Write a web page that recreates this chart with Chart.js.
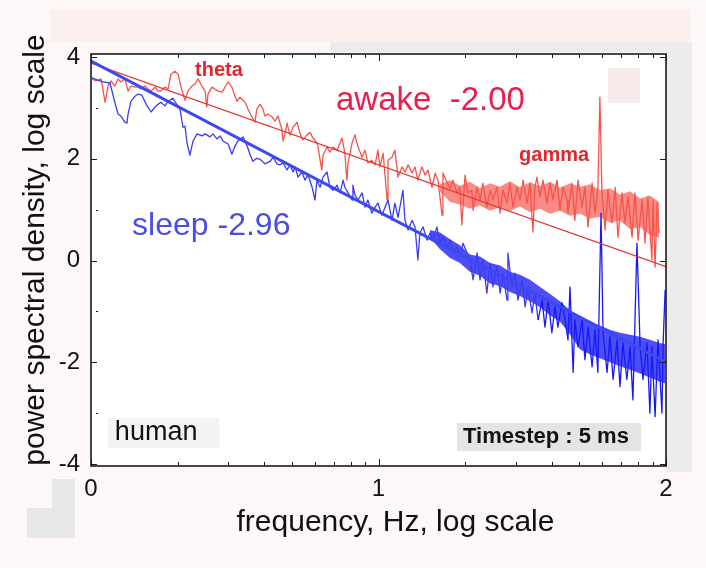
<!DOCTYPE html>
<html lang="en">
<head>
<meta charset="UTF-8">
<title>Power spectral density, awake vs sleep</title>
<script src="https://cdn.jsdelivr.net/npm/chart.js"></script>
<style>
  html, body { margin: 0; padding: 0; background: #fff; }
</style>
</head>
<body>
<canvas id="psd" width="706" height="568"></canvas>
<script>
// log10 frequency (Hz) and log10 power
const awakeLogF = [
  0.003,0.017,0.035,0.049,0.059,0.070,0.083,0.094,0.104,0.118,
  0.129,0.139,0.153,0.163,0.174,0.188,0.198,0.209,0.223,0.233,
  0.243,0.257,0.268,0.278,0.292,0.303,0.313,0.327,0.337,0.351,
  0.362,0.372,0.386,0.397,0.403,0.407,0.421,0.431,0.442,0.456,
  0.466,0.477,0.490,0.501,0.508,0.518,0.536,0.546,0.560,0.570,
  0.577,0.588,0.598,0.605,0.616,0.630,0.640,0.650,0.664,0.668,
  0.675,0.682,0.692,0.703,0.717,0.727,0.737,0.751,0.762,0.772,
  0.786,0.790,0.797,0.803,0.807,0.821,0.831,0.842,0.856,0.866,
  0.873,0.883,0.890,0.894,0.908,0.918,0.929,0.943,0.953,0.963,
  0.977,0.988,0.998,1.005,1.016,1.030,1.033,1.047,1.057,1.068,
  1.082,1.092,1.103,1.117,1.127,1.137,1.151,1.162,1.172,1.186,
  1.197,1.207,1.221,1.224,1.238,1.249,1.259,1.273,1.283,1.290,
  1.301,1.311,1.325,1.329,1.343,1.353,1.363,1.377,1.388,1.398,
  1.412,1.423,1.433,1.447,1.457,1.468,1.482,1.492,1.503,1.517,
  1.527,1.537,1.544,1.551,1.562,1.572,1.586,1.597,1.607,1.621,
  1.631,1.642,1.656,1.659,1.673,1.683,1.694,1.708,1.718,1.729,
  1.743,1.753,1.763,1.770,1.777,1.788,1.798,1.812,1.823,1.833,
  1.847,1.857,1.868,1.882,1.892,1.903,1.917,1.927,1.937,1.951,
  1.955,1.962,1.969,1.976
];
const awakePower = [
  3.57,3.53,3.57,3.11,3.43,3.53,3.43,3.57,3.51,3.57,
  3.33,3.43,3.41,3.41,3.37,3.43,3.37,3.33,3.41,3.33,
  3.33,3.41,3.37,3.66,3.72,3.66,3.41,3.15,3.33,3.43,
  3.47,3.57,3.43,3.33,3.02,3.27,3.41,3.37,3.33,3.31,
  3.41,3.51,3.41,3.23,3.13,3.21,3.11,2.98,2.82,2.72,
  2.98,3.07,2.98,2.84,2.88,2.82,2.74,2.84,2.58,2.35,
  2.49,2.70,2.47,2.62,2.72,2.50,2.37,2.47,2.52,2.41,
  2.31,2.23,1.97,1.78,2.07,2.23,2.13,2.23,2.17,2.31,
  2.41,2.11,1.58,1.92,2.31,2.47,2.23,2.03,2.17,1.92,
  1.97,1.88,2.17,1.84,2.11,1.19,1.97,2.03,2.17,1.64,
  1.84,1.74,1.88,1.72,1.84,1.58,1.84,1.68,1.78,1.44,
  1.72,1.58,0.89,1.72,1.54,1.42,1.58,1.33,1.44,0.70,
  1.68,1.33,1.38,0.99,1.44,1.19,1.52,1.05,1.38,1.19,
  1.44,0.93,1.38,1.13,1.52,1.05,1.44,1.19,1.58,1.13,
  1.52,0.56,1.44,1.64,1.25,1.58,1.13,1.52,1.19,1.58,
  0.99,1.44,1.19,0.93,1.52,0.79,1.58,1.05,1.44,0.66,
  1.52,0.93,1.38,3.21,1.38,0.60,1.38,0.74,1.44,0.46,
  1.33,0.74,1.25,0.46,1.33,0.40,1.19,0.34,1.25,0.01,
  1.19,-0.13,1.13,0.54
];
// dense high-frequency part of the awake trace: upper and lower edge of the band
const awakeBandLogF = [1.214,1.249,1.283,1.318,1.353,1.388,1.423,1.457,1.492,1.527,1.562,1.597,
                       1.631,1.666,1.701,1.736,1.770,1.805,1.840,1.875,1.910,1.944,1.976];
const awakeBandHi = [1.50,1.58,1.47,1.55,1.42,1.52,1.45,1.56,1.44,1.54,1.46,1.55,
                     1.43,1.52,1.45,1.50,1.38,1.42,1.30,1.36,1.22,1.28,1.15];
const awakeBandLo = [1.35,1.15,1.10,1.02,1.08,0.98,1.05,0.97,1.06,0.95,1.02,0.92,
                     0.98,0.88,0.92,0.82,0.86,0.74,0.78,0.62,0.66,0.50,0.45];

const sleepLogF = [
  0.003,0.021,0.042,0.066,0.083,0.094,0.104,0.118,0.125,0.129,
  0.139,0.153,0.163,0.177,0.195,0.209,0.223,0.233,0.243,0.257,
  0.268,0.285,0.310,0.320,0.327,0.334,0.344,0.355,0.369,0.386,
  0.397,0.414,0.424,0.438,0.449,0.459,0.477,0.490,0.501,0.511,
  0.529,0.543,0.553,0.563,0.577,0.588,0.605,0.623,0.633,0.647,
  0.657,0.668,0.682,0.692,0.703,0.710,0.720,0.734,0.744,0.755,
  0.769,0.779,0.786,0.797,0.807,0.821,0.831,0.842,0.856,0.866,
  0.877,0.883,0.894,0.908,0.911,0.918,0.929,0.943,0.953,0.963,
  0.977,0.988,0.998,1.012,1.023,1.033,1.047,1.057,1.068,1.085,
  1.092,1.103,1.117,1.127,1.137,1.144,1.155,1.169,1.179,1.190,
  1.203,1.214,1.224,1.238,1.249,1.259,1.273,1.283,1.294,1.308,
  1.318,1.329,1.343,1.353,1.363,1.377,1.388,1.398,1.412,1.423,
  1.433,1.447,1.450,1.464,1.475,1.485,1.499,1.510,1.520,1.534,
  1.544,1.555,1.569,1.579,1.590,1.603,1.614,1.624,1.638,1.649,
  1.659,1.666,1.677,1.683,1.694,1.708,1.718,1.729,1.743,1.753,
  1.763,1.774,1.781,1.795,1.805,1.816,1.830,1.840,1.850,1.864,
  1.875,1.885,1.899,1.910,1.920,1.934,1.944,1.951,1.962,1.972,
  1.986,1.990,1.997
];
const sleepPower = [
  3.59,3.55,3.51,3.49,3.11,2.88,2.84,2.72,2.70,2.88,
  3.13,3.23,3.27,3.25,3.04,2.92,3.02,3.07,3.11,3.04,
  3.13,3.19,2.96,2.62,2.64,2.31,2.07,2.35,2.49,2.45,
  2.49,2.43,2.49,2.39,2.45,2.35,2.29,2.09,2.25,2.35,
  2.43,2.25,2.09,1.95,2.01,1.99,1.90,1.95,2.03,1.90,
  1.88,1.92,1.78,1.88,1.74,1.84,1.64,1.74,1.58,1.68,
  1.44,1.19,1.58,1.44,1.64,1.74,1.44,1.38,1.48,1.33,
  1.58,1.44,1.33,1.19,1.48,1.29,1.19,1.33,1.05,1.19,
  0.93,1.05,1.13,0.89,1.05,1.19,0.79,1.13,0.85,1.38,
  0.79,0.60,0.79,0.66,0.01,0.54,0.66,0.40,0.54,0.40,
  0.66,0.34,0.46,0.27,0.40,0.15,0.27,0.07,0.34,0.15,
  0.01,-0.38,0.15,-0.38,0.01,-0.64,-0.05,-0.52,-0.13,-0.64,
  -0.25,-0.78,0.15,-0.52,-0.25,-0.78,-0.38,-0.91,-0.52,-1.03,
  -0.64,-1.17,-0.78,-1.31,-0.78,-1.42,-0.91,-1.31,-0.83,-1.17,
  -1.56,-0.52,-2.20,-1.17,-1.70,-1.17,-1.95,-1.31,-2.09,-1.36,
  -2.20,0.93,-1.42,-2.20,-1.50,-2.34,-1.56,-2.48,-1.62,-2.34,
  -1.70,-2.74,0.34,-1.70,-2.34,-1.62,-3.00,-1.70,-3.07,-1.56,
  -3.00,-1.62,-0.58
];
// dense high-frequency part of the sleep trace: upper and lower edge of the band
const sleepBandLogF = [1.179,1.214,1.249,1.283,1.318,1.353,1.388,1.423,1.457,1.492,1.527,1.562,1.597,
                       1.631,1.666,1.701,1.736,1.770,1.805,1.840,1.875,1.910,1.944,1.977,1.997];
const sleepBandHi = [0.60,0.55,0.42,0.30,0.12,0.08,-0.05,-0.10,-0.22,-0.28,-0.38,-0.52,-0.66,
                     -0.80,-0.98,-1.10,-1.22,-1.28,-1.36,-1.42,-1.46,-1.50,-1.56,-1.62,-1.64];
const sleepBandLo = [0.45,0.22,0.05,-0.05,-0.22,-0.30,-0.45,-0.50,-0.62,-0.70,-0.80,-0.92,-1.08,
                     -1.20,-1.45,-1.75,-1.85,-1.92,-2.00,-2.08,-2.15,-2.22,-2.30,-2.38,-2.42];

// power-law fits: slope -2.00 (awake), -2.96 (sleep)
const fitLogF = [0, 2];
const awakeFit = [3.88, -0.12];
const sleepFit = [3.92, -2.0];

const xTicks = [0, 1, 2];
const xMinor = [2, 3, 4, 5, 6, 7, 8, 9];
const yTicks = [-4, -2, 0, 2, 4];
const yMinor = [-3, -1, 1, 3];

const FONT = "'Liberation Sans', Arial, sans-serif";

function pairs(xs, ys) {
    return xs.map((x, i) => ({ x: x, y: ys[i] }));
}

// text placed in data units
const notes = [
    { text: 'theta', x: 0.445, y: 3.74, font: 'bold 20px ' + FONT, color: '#e3262b', align: 'center' },
    { text: 'awake  -2.00', x: 0.852, y: 3.13, font: '33px ' + FONT, color: '#ea1d4c', align: 'left' },
    { text: 'gamma', x: 1.489, y: 2.07, font: 'bold 20px ' + FONT, color: '#e3262b', align: 'left' },
    { text: 'sleep -2.96', x: 0.143, y: 0.68, font: '32px ' + FONT, color: '#4a4ce6', align: 'left' },
    { text: 'human', x: 0.083, y: -3.39, font: '27px ' + FONT, color: '#111', align: 'left',
      box: '#f5f2f2', padL: 7, padR: 22, boxH: 30 },
    { text: 'Timestep : 5 ms', x: 1.294, y: -3.47, font: 'bold 22px ' + FONT, color: '#111', align: 'left',
      box: '#e4e4e4', padL: 6, padR: 12, boxH: 28 }
];

const backdrop = {
    id: 'backdrop',
    beforeDraw(chart) {
        const { ctx, chartArea: a, width, height } = chart;
        ctx.save();
        ctx.fillStyle = '#fdf8f7';
        ctx.fillRect(0, 0, width, height);
        // faint patches left over in the scanned figure
        ctx.fillStyle = '#fbefee';
        ctx.fillRect(50, 10, 640, 32);
        ctx.fillStyle = '#ececec';
        ctx.fillRect(a.right, 42, 26, 430);
        ctx.fillRect(330, 42, 360, 10);
        ctx.fillStyle = '#e7e7e7';
        ctx.fillRect(27, 508, 48, 30);
        ctx.fillRect(52, 479, 23, 30);
        ctx.fillStyle = '#ffffff';
        ctx.fillRect(a.left, a.top, a.right - a.left, a.bottom - a.top);
        ctx.fillStyle = '#f6eaea';
        ctx.fillRect(608, 68, 32, 35);
        ctx.restore();
    }
};

const frame = {
    id: 'frame',
    afterDatasetsDraw(chart) {
        const { ctx, chartArea: a, scales: { x, y } } = chart;
        ctx.save();
        ctx.strokeStyle = '#1a1a1a';
        ctx.lineWidth = 1;
        ctx.beginPath();
        [0, 1].forEach(d => xMinor.forEach(m => {
            const px = Math.round(x.getPixelForValue(d + Math.log10(m))) + 0.5;
            ctx.moveTo(px, a.bottom); ctx.lineTo(px, a.bottom - 4);
            ctx.moveTo(px, a.top); ctx.lineTo(px, a.top + 4);
        }));
        xTicks.forEach(v => {
            const px = Math.round(x.getPixelForValue(v)) + 0.5;
            ctx.moveTo(px, a.bottom); ctx.lineTo(px, a.bottom - 7);
            ctx.moveTo(px, a.top); ctx.lineTo(px, a.top + 7);
        });
        yTicks.forEach(v => {
            const py = Math.round(y.getPixelForValue(v)) + 0.5;
            ctx.moveTo(a.left, py); ctx.lineTo(a.left + 6, py);
            ctx.moveTo(a.right, py); ctx.lineTo(a.right - 6, py);
        });
        yMinor.forEach(v => {
            const py = Math.round(y.getPixelForValue(v)) + 0.5;
            ctx.moveTo(a.left + 5, py); ctx.lineTo(a.left + 7, py);
        });
        ctx.stroke();
        ctx.lineWidth = 1.6;
        ctx.strokeRect(a.left, a.top, a.right - a.left, a.bottom - a.top);
        ctx.restore();
    }
};

const labels = {
    id: 'labels',
    afterDatasetsDraw(chart) {
        const { ctx, chartArea: a, scales: { x, y } } = chart;
        ctx.save();
        ctx.textBaseline = 'middle';
        notes.forEach(n => {
            const px = x.getPixelForValue(n.x);
            const py = y.getPixelForValue(n.y);
            ctx.font = n.font;
            const w = ctx.measureText(n.text).width;
            if (n.box) {
                ctx.fillStyle = n.box;
                ctx.fillRect(px - n.padL, py - n.boxH / 2, w + n.padL + n.padR, n.boxH);
            }
            ctx.textAlign = n.align;
            ctx.fillStyle = n.color;
            ctx.fillText(n.text, px, py);
        });

        // axis titles (the originals sit a little off-centre)
        ctx.font = '30px ' + FONT;
        ctx.fillStyle = '#111';
        ctx.textAlign = 'center';
        ctx.fillText('frequency, Hz, log scale', (a.left + a.right) / 2 + 17, a.bottom + 57);
        ctx.translate(36, (a.top + a.bottom) / 2 - 10);
        ctx.rotate(-Math.PI / 2);
        ctx.fillText('power spectral density, log scale', 0, 0);
        ctx.restore();
    }
};

const band = (label, xs, ys, color, fillTo, order) => ({
    label: label, data: pairs(xs, ys), borderWidth: 0, borderColor: color,
    backgroundColor: color, fill: fillTo, order: order
});

new Chart(document.getElementById('psd'), {
    type: 'line',
    data: {
        datasets: [
            { label: 'sleep fit', data: pairs(fitLogF, sleepFit), borderColor: '#3d47f2', borderWidth: 3, order: 0 },
            { label: 'awake fit', data: pairs(fitLogF, awakeFit), borderColor: '#e8342c', borderWidth: 1.2, order: 1 },
            {
                label: 'sleep', data: pairs(sleepLogF, sleepPower), borderColor: '#3a3cf0', borderWidth: 1.3, order: 2,
                segment: { borderColor: c => c.p0.parsed.x > 1.55 ? '#1818f8' : undefined }
            },
            { label: 'awake', data: pairs(awakeLogF, awakePower), borderColor: '#f5544d', borderWidth: 1.3, order: 3 },
            band('awake band hi', awakeBandLogF, awakeBandHi, 'rgba(247,88,80,0.7)', false, 4),
            band('awake band lo', awakeBandLogF, awakeBandLo, 'rgba(247,88,80,0.7)', 4, 5),
            band('sleep band hi', sleepBandLogF, sleepBandHi, 'rgba(34,34,246,0.8)', false, 6),
            band('sleep band lo', sleepBandLogF, sleepBandLo, 'rgba(34,34,246,0.8)', 6, 7)
        ]
    },
    options: {
        responsive: false,
        animation: false,
        devicePixelRatio: 1,
        layout: { padding: { top: 54, right: 40, bottom: 0, left: 0 } },
        elements: {
            point: { radius: 0 },
            line: { tension: 0, fill: false, borderJoinStyle: 'round' }
        },
        plugins: { legend: { display: false }, tooltip: { enabled: false } },
        scales: {
            x: {
                type: 'linear',
                min: 0,
                max: 2,
                afterBuildTicks: s => { s.ticks = xTicks.map(v => ({ value: v })); },
                afterFit: s => { s.height = 102; },
                grid: { display: false, drawTicks: false },
                border: { display: false },
                ticks: { padding: 9, color: '#111', font: { family: FONT, size: 24 }, maxRotation: 0, callback: v => String(v) },
                title: { display: false }
            },
            y: {
                min: -4.04,
                max: 4.06,
                afterBuildTicks: s => { s.ticks = yTicks.map(v => ({ value: v })); },
                afterFit: s => { s.width = 91; },
                grid: { display: false, drawTicks: false },
                border: { display: false },
                ticks: { padding: 11, color: '#111', font: { family: FONT, size: 24 }, callback: v => String(v) },
                title: { display: false }
            }
        }
    },
    plugins: [backdrop, frame, labels]
});
</script>
</body>
</html>
